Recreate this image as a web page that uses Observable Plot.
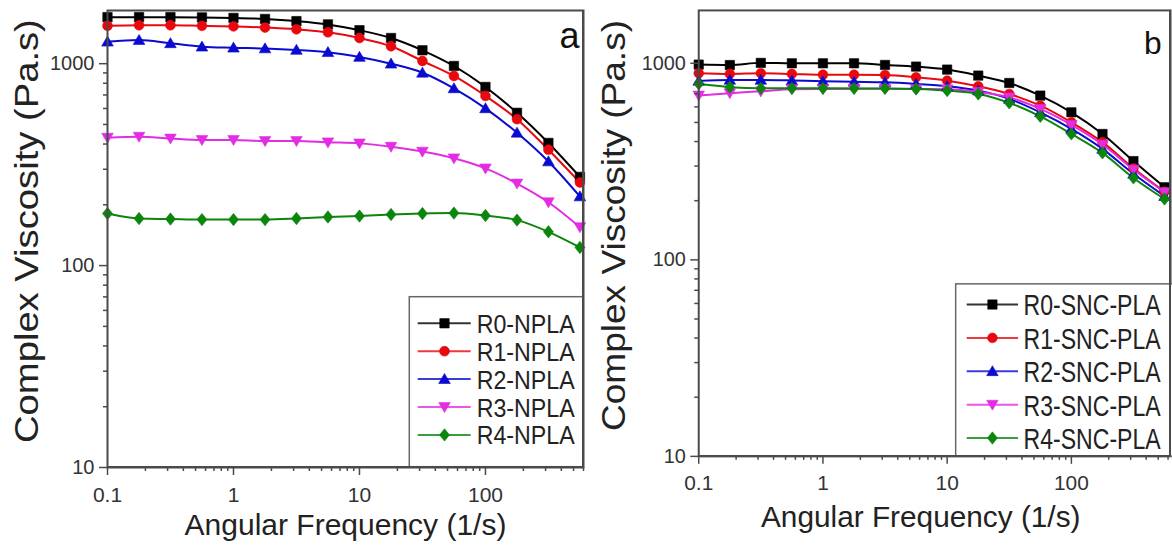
<!DOCTYPE html>
<html><head><meta charset="utf-8">
<script src="https://cdn.jsdelivr.net/npm/d3@7"></script>
<script src="https://cdn.jsdelivr.net/npm/@observablehq/plot@0.6"></script>
<style>
html,body{margin:0;padding:0;background:#fff;width:1172px;height:548px;overflow:hidden;}
#wrap{position:relative;width:1172px;height:548px;overflow:hidden;}
.panel{position:absolute;top:0;}
</style></head><body>
<div id="wrap"><div id="pa" class="panel" style="left:0px"></div><div id="pb" class="panel" style="left:586px"></div></div>
<script>
// Angular frequency (1/s), shared by every series
const freq = [0.1, 0.178, 0.316, 0.562, 1, 1.78, 3.16, 5.62, 10, 17.8, 31.6, 56.2, 100, 178, 316, 562];

// Panel a: complex viscosity (Pa.s)
const seriesA = ["R0-NPLA", "R1-NPLA", "R2-NPLA", "R3-NPLA", "R4-NPLA"];
const R0_NPLA = [1700, 1700, 1700, 1695, 1685, 1665, 1625, 1565, 1465, 1340, 1165, 974, 767, 571, 405, 275];
const R1_NPLA = [1540, 1550, 1550, 1540, 1530, 1510, 1480, 1430, 1340, 1220, 1031, 869, 692, 531, 375, 258];
const R2_NPLA = [1285, 1310, 1262, 1214, 1200, 1190, 1170, 1140, 1080, 1000, 902, 755, 601, 455, 328, 220];
const R3_NPLA = [430, 435, 426, 419, 419, 414, 414, 408, 403, 388, 367, 340, 303, 255, 206, 155];
const R4_NPLA = [181, 171, 170, 169, 169, 169, 171, 174, 176, 179, 181, 182, 177, 168, 147, 123];

// Panel b: complex viscosity (Pa.s)
const seriesB = ["R0-SNC-PLA", "R1-SNC-PLA", "R2-SNC-PLA", "R3-SNC-PLA", "R4-SNC-PLA"];
const R0_SNC = [985, 980, 1005, 1000, 1000, 1000, 981, 962, 929, 866, 794, 685, 563, 437, 318, 234];
const R1_SNC = [890, 883, 890, 883, 875, 875, 872, 849, 816, 764, 698, 609, 501, 397, 292, 222];
const R2_SNC = [814, 823, 823, 818, 810, 805, 800, 785, 764, 726, 659, 563, 464, 367, 274, 211];
const R3_SNC = [686, 705, 720, 738, 740, 742, 742, 740, 738, 715, 671, 586, 486, 386, 288, 221];
const R4_SNC = [786, 756, 746, 746, 746, 745, 745, 740, 726, 698, 629, 537, 437, 350, 261, 204];

// Ticks
const yTicks = [10, 100, 1000];
const yTickLabels = ["10", "100", "1000"];
const xTicks = [0.1, 1, 10, 100];
const xTickLabels = ["0.1", "1", "10", "100"];
const yMinor = [20,30,40,50,60,70,80,90,200,300,400,500,600,700,800,900];
const xMinor = [0.2,0.3,0.4,0.5,0.6,0.7,0.8,0.9,2,3,4,5,6,7,8,9,20,30,40,50,60,70,80,90,200,300,400,500,600];

const xTitle = "Angular Frequency (1/s)";
const yTitle = "Complex Viscosity (Pa.s)";

const colors = ["#000000", "#e8080e", "#0a0ad0", "#e22de2", "#0b850b"];

const symSquare = {draw(c){const s=4.7;c.moveTo(-s,-s);c.lineTo(s,-s);c.lineTo(s,s);c.lineTo(-s,s);c.closePath();}};
const symCircle = {draw(c){const r=4.9;c.moveTo(r,0);c.arc(0,0,r,0,2*Math.PI);c.closePath();}};
const symTriUp = {draw(c){c.moveTo(0,-5.6);c.lineTo(5.8,4.4);c.lineTo(-5.8,4.4);c.closePath();}};
const symTriDown = {draw(c){c.moveTo(0,5.6);c.lineTo(5.8,-4.4);c.lineTo(-5.8,-4.4);c.closePath();}};
const symDiamond = {draw(c){c.moveTo(0,-6.2);c.lineTo(5,0);c.lineTo(0,6.2);c.lineTo(-5,0);c.closePath();}};
const symbols = [symSquare, symCircle, symTriUp, symTriDown, symDiamond];

const FONT = "'Liberation Sans', Arial, Helvetica, sans-serif";

function makePanel(cfg) {
  const data = [];
  cfg.series.forEach((name, i) => cfg.values[i].forEach((v, k) => data.push({f: freq[k], v, s: name})));
  const marks = [];
  cfg.series.forEach((name, i) => {
    const d = data.filter(r => r.s === name);
    marks.push(Plot.line(d, {x: "f", y: "v", stroke: colors[i], strokeWidth: 2, curve: "monotone-x"}));
  });
  cfg.series.forEach((name, i) => {
    const d = data.filter(r => r.s === name);
    marks.push(Plot.dot(d, {x: "f", y: "v", fill: colors[i], stroke: colors[i], strokeWidth: 0.6, symbol: symbols[i]}));
  });
  marks.push(Plot.frame({stroke: "#4a4a4a", strokeWidth: 2}));
  marks.push(Plot.axisY(yMinor, {tickSize: 4, tickFormat: () => "", stroke: "#4a4a4a", strokeWidth: 1.5, label: null}));
  marks.push(Plot.axisY(yTicks, {tickSize: 8, tickPadding: 5, tickFormat: d => yTickLabels[yTicks.indexOf(d)], stroke: "#4a4a4a", strokeWidth: 1.5, fontSize: 20, fill: "#333", label: null}));
  marks.push(Plot.axisX(xMinor, {tickSize: 4, tickFormat: () => "", stroke: "#4a4a4a", strokeWidth: 1.5, label: null}));
  marks.push(Plot.axisX(xTicks, {tickSize: 8, tickPadding: cfg.xPad, tickFormat: d => xTickLabels[xTicks.indexOf(d)], stroke: "#4a4a4a", strokeWidth: 1.5, fontSize: 21, fill: "#333", label: null}));
  marks.push(Plot.text([xTitle], {text: d => d, frameAnchor: "bottom", dx: cfg.xTitleDx, dy: cfg.xTitleDy, lineAnchor: "middle", fontSize: 30, fill: "#222"}));
  marks.push(Plot.text([cfg.tag], {text: d => d, frameAnchor: "top-right", dx: cfg.tagDx, dy: cfg.tagDy, lineAnchor: "middle", fontSize: cfg.tagSize, fill: "#111"}));

  const svg = Plot.plot({
    width: cfg.width, height: 548,
    marginLeft: cfg.ml, marginRight: cfg.mr, marginTop: cfg.mt, marginBottom: cfg.mb,
    style: {fontFamily: FONT, background: "transparent", overflow: "visible"},
    x: {type: "log", domain: cfg.xDomain},
    y: {type: "log", domain: cfg.yDomain},
    marks
  });
  document.getElementById(cfg.host).appendChild(svg);

  const g = d3.select(svg).append("g");
  // y title, running upward from its start point, stretched along its length
  const T = cfg.ytitle;
  const yt = g.append("text").text(yTitle)
    .attr("text-anchor", "start").attr("font-family", FONT).attr("font-size", T.fs).attr("fill", "#222");
  const ytLen = yt.node().getComputedTextLength();
  yt.attr("transform", `translate(${T.x},${T.y0}) rotate(-90) scale(${T.len / ytLen},1)`);

  // legend box inside the frame
  const L = cfg.legend;
  g.append("rect").attr("x", L.x).attr("y", L.y).attr("width", L.w).attr("height", L.h)
    .attr("fill", "#fff").attr("stroke", "#666").attr("stroke-width", 1.5);
  cfg.series.forEach((name, i) => {
    const y = L.row0 + i * L.step;
    g.append("line").attr("x1", L.lx1).attr("x2", L.lx2).attr("y1", y).attr("y2", y)
      .attr("stroke", colors[i]).attr("stroke-width", 2).attr("stroke-opacity", 0.8);
    g.append("path").attr("d", d3.symbol().type(symbols[i])()).attr("transform", `translate(${L.mx},${y})`)
      .attr("fill", colors[i]).attr("stroke", colors[i]).attr("stroke-width", 0.6);
    const t = g.append("text").text(name)
      .attr("text-anchor", "start").attr("font-family", FONT).attr("font-size", L.fs).attr("fill", "#222");
    const len = t.node().getComputedTextLength();
    t.attr("transform", `translate(${L.tx},${y + L.base}) scale(${L.tl / len},1)`);
  });
  // frame edges on top of legend
  g.append("line").attr("x1", cfg.ml).attr("x2", cfg.width - cfg.mr).attr("y1", 548 - cfg.mb).attr("y2", 548 - cfg.mb).attr("stroke", "#4a4a4a").attr("stroke-width", 2);
  g.append("line").attr("x1", cfg.width - cfg.mr).attr("x2", cfg.width - cfg.mr).attr("y1", cfg.mt).attr("y2", 548 - cfg.mb).attr("stroke", "#4a4a4a").attr("stroke-width", 2);
}

makePanel({
  host: "pa", width: 586, ml: 107, mr: 3, mt: 10, mb: 81,
  xDomain: [0.1, 600], yDomain: [10, 1834],
  series: seriesA, values: [R0_NPLA, R1_NPLA, R2_NPLA, R3_NPLA, R4_NPLA],
  xPad: 12, xTitleDx: 0, xTitleDy: 58,
  ytitle: {x: 38, y0: 443, len: 424, fs: 33},
  tag: "a", tagDx: -4, tagDy: 26, tagSize: 36,
  legend: {x: 409.3, y: 296.7, w: 173.7, h: 170, row0: 323.3, step: 27.9, lx1: 417.7, lx2: 470.7, mx: 444.5, tx: 476.7, tl: 98, fs: 26, base: 9.5}
});
makePanel({
  host: "pb", width: 590, ml: 113, mr: 2, mt: 10, mb: 89,
  xDomain: [0.1, 628], yDomain: [10, 1858],
  series: seriesB, values: [R0_SNC, R1_SNC, R2_SNC, R3_SNC, R4_SNC],
  xPad: 11, xTitleDx: -14, xTitleDy: 61,
  ytitle: {x: 39, y0: 434, len: 414, fs: 33},
  tag: "b", tagDx: -9, tagDy: 34, tagSize: 32,
  legend: {x: 372.2, y: 285.8, w: 220, h: 173.5, row0: 306.6, step: 33.6, lx1: 383.3, lx2: 435, mx: 409.2, tx: 440.6, tl: 138, fs: 30, base: 11}
});
</script>
</body></html>
